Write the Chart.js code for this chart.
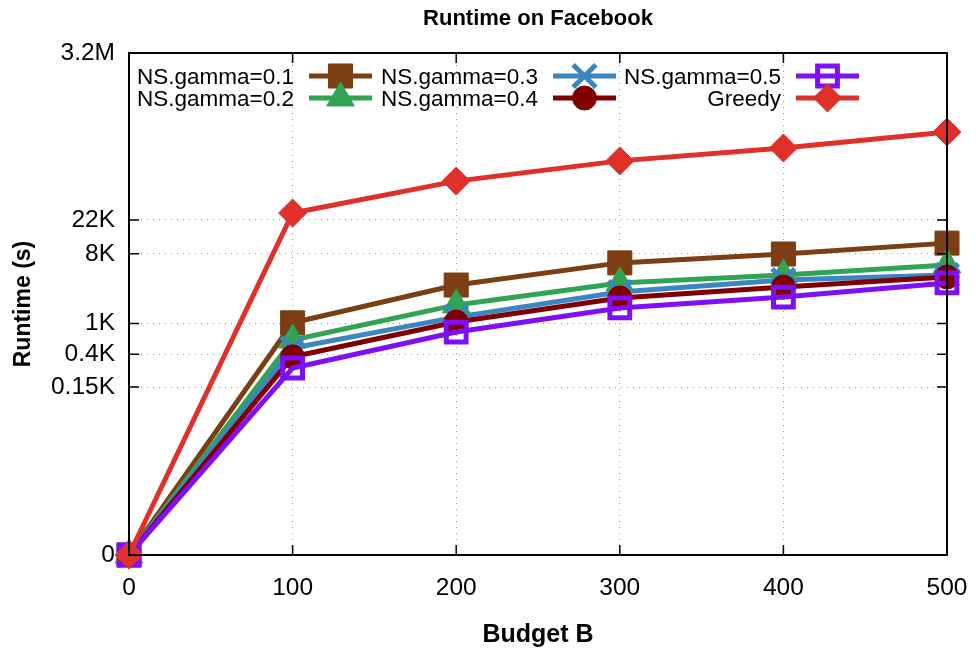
<!DOCTYPE html>
<html>
<head>
<meta charset="utf-8">
<script src="https://cdn.jsdelivr.net/npm/chart.js@4.4.1/dist/chart.umd.min.js"></script>
<style>
  html, body { margin: 0; padding: 0; background: #fff; }
</style>
</head>
<body>
<canvas id="chart" width="976" height="653"></canvas>
<script>
// values (runtime in seconds)
const budgets = [0, 100, 200, 300, 400, 500];
const gamma01 = [0, 1020, 3150, 6100, 7950, 11000];
const gamma02 = [0, 610, 1740, 3350, 4250, 5730];
const gamma03 = [0, 480, 1210, 2560, 3660, 4250];
const gamma04 = [0, 370, 1045, 2140, 2970, 4000];
const gamma05 = [0, 265, 775, 1590, 2200, 3350];
const greedy = [0, 27000, 70000, 128000, 188000, 303000];

const yTickValues = [0, 150, 400, 1000, 8000, 22000, 3200000];
const yTickLabels = ['0', '0.15K', '0.4K', '1K', '8K', '22K', '3.2M'];
const xTickValues = [0, 100, 200, 300, 400, 500];

// log axis can't show 0, so 0 sits on the axis floor (1)
function logSafe(v) { return Math.max(v, 1); }

function series(label, vals, color, style, radius, opts) {
  return Object.assign({
    label: label,
    data: budgets.map((b, i) => ({ x: b, y: logSafe(vals[i]) })),
    borderColor: color,
    backgroundColor: color,
    borderWidth: 5,
    pointStyle: style,
    pointRadius: radius,
    pointHoverRadius: radius,
    pointBackgroundColor: color,
    pointBorderColor: color,
    pointBorderWidth: 1,
    tension: 0,
    clip: false
  }, opts || {});
}

const datasets = [
  series('NS.gamma=0.1', gamma01, '#7b3f13', 'rect', 17, { order: 5 }),
  series('NS.gamma=0.2', gamma02, '#31a354', 'triangle', 16, { order: 4 }),
  series('NS.gamma=0.3', gamma03, '#3a85c2', 'crossRot', 16, { order: 3, pointBorderWidth: 5 }),
  series('NS.gamma=0.4', gamma04, '#800000', 'circle', 12, { order: 2 }),
  series('NS.gamma=0.5', gamma05, '#7f0ff5', 'rect', 14, { order: 1, pointBorderWidth: 5, pointBackgroundColor: 'rgba(0,0,0,0)' }),
  series('Greedy', greedy, '#e0302a', 'rectRot', 14, { order: 0 })
];

// centre the title over the plot box, like gnuplot does
const titleCenter = {
  id: 'titleCenter',
  afterLayout(chart) {
    if (chart.titleBlock) {
      chart.titleBlock.left = chart.chartArea.left;
      chart.titleBlock.right = chart.chartArea.right;
    }
  }
};

const framePlugin = {
  id: 'frame',
  afterDatasetsDraw(chart) {
    const ctx = chart.ctx;
    const a = chart.chartArea;
    const xs = chart.scales.x, ys = chart.scales.y;
    ctx.save();
    ctx.strokeStyle = '#000';
    ctx.lineWidth = 2;
    ctx.strokeRect(a.left, a.top, a.right - a.left, a.bottom - a.top);
    ctx.lineWidth = 1.5;
    ctx.beginPath();
    yTickValues.slice(1, -1).forEach(v => {
      const y = ys.getPixelForValue(logSafe(v));
      ctx.moveTo(a.left, y); ctx.lineTo(a.left + 10, y);
      ctx.moveTo(a.right, y); ctx.lineTo(a.right - 10, y);
    });
    xTickValues.slice(1, -1).forEach(v => {
      const x = xs.getPixelForValue(v);
      ctx.moveTo(x, a.bottom); ctx.lineTo(x, a.bottom - 10);
      ctx.moveTo(x, a.top); ctx.lineTo(x, a.top + 10);
    });
    ctx.stroke();
    ctx.restore();
  }
};

// gnuplot style key: text on the left, sample on the right, filled by columns
const legendPlugin = {
  id: 'keybox',
  afterDraw(chart) {
    const ctx = chart.ctx;
    const textRight = [294, 538, 781];
    const rowY = [76, 98];
    ctx.save();
    ctx.font = '22.5px "Liberation Sans", Arial, sans-serif';
    ctx.textAlign = 'right';
    ctx.textBaseline = 'alphabetic';
    chart.data.datasets.forEach((ds, i) => {
      const col = Math.floor(i / 2), row = i % 2;
      const y = rowY[row];
      const x0 = textRight[col] + 15, x1 = x0 + 63;
      ctx.fillStyle = '#000';
      ctx.fillText(ds.label, textRight[col], y + 8);
      ctx.strokeStyle = ds.borderColor;
      ctx.lineWidth = ds.borderWidth;
      ctx.beginPath();
      ctx.moveTo(x0, y); ctx.lineTo(x1, y);
      ctx.stroke();
      ctx.fillStyle = ds.pointBackgroundColor;
      ctx.strokeStyle = ds.pointBorderColor;
      ctx.lineWidth = ds.pointBorderWidth;
      Chart.helpers.drawPoint(ctx, {
        pointStyle: ds.pointStyle,
        radius: ds.pointRadius,
        rotation: 0,
        borderWidth: ds.pointBorderWidth
      }, (x0 + x1) / 2, y);
    });
    ctx.restore();
  }
};

Chart.defaults.font.family = '"Liberation Sans", Arial, sans-serif';
Chart.defaults.color = '#000';

new Chart(document.getElementById('chart'), {
  type: 'line',
  data: { datasets: datasets },
  options: {
    responsive: false,
    animation: false,
    events: [],
    layout: { padding: { left: 8, right: 29, top: 0, bottom: 0 } },
    plugins: {
      legend: { display: false },
      tooltip: { enabled: false },
      title: {
        display: true,
        text: 'Runtime on Facebook',
        font: { size: 22, weight: 'bold' },
        padding: { top: 5.5, bottom: 21.1 }
      }
    },
    scales: {
      x: {
        type: 'linear',
        min: 0,
        max: 500,
        afterFit(s) { s.height = 98; s.paddingLeft = 0; s.paddingRight = 0; },
        afterBuildTicks(s) { s.ticks = xTickValues.map(v => ({ value: v })); },
        ticks: { font: { size: 24.5 }, padding: 19, autoSkip: false, maxRotation: 0 },
        grid: { color: '#999', lineWidth: 1, drawTicks: false },
        border: { display: false, dash: [1, 5] },
        title: {
          display: true,
          text: 'Budget B',
          font: { size: 25, weight: 'bold' },
          padding: { top: 0, bottom: 3 }
        }
      },
      y: {
        type: 'logarithmic',
        min: 1,
        max: 3200000,
        afterFit(s) { s.width = 121; },
        afterBuildTicks(s) { s.ticks = yTickValues.map(v => ({ value: logSafe(v) })); },
        ticks: {
          font: { size: 24.5 },
          padding: 14,
          autoSkip: false,
          callback(value) {
            const i = yTickValues.findIndex(v => logSafe(v) === value);
            return i >= 0 ? yTickLabels[i] : '';
          }
        },
        grid: { color: '#999', lineWidth: 1, drawTicks: false },
        border: { display: false, dash: [1, 5] },
        title: {
          display: true,
          text: 'Runtime (s)',
          font: { size: 23, weight: 'bold' },
          padding: { top: 2, bottom: 0 }
        }
      }
    }
  },
  plugins: [titleCenter, framePlugin, legendPlugin]
});
</script>
</body>
</html>
